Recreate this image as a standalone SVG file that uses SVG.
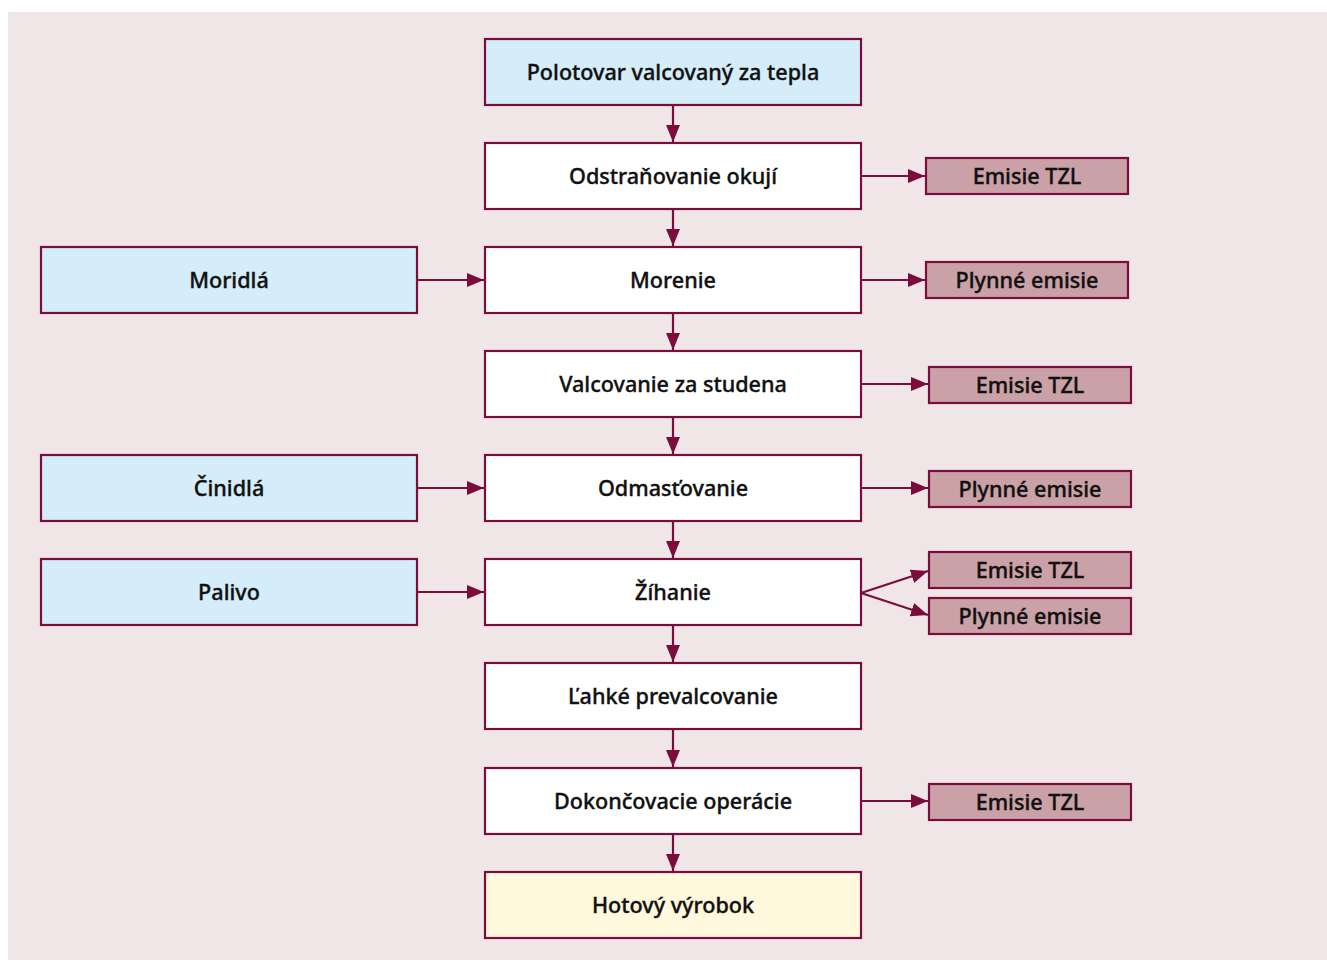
<svg xmlns="http://www.w3.org/2000/svg" width="1327" height="960" viewBox="0 0 1327 960">
  <defs>
    <marker id="arrow" viewBox="0 0 17 14" refX="17" refY="7" markerWidth="17" markerHeight="14" markerUnits="userSpaceOnUse" orient="auto">
      <path d="M0,0 L17,7 L0,14 Z" fill="#7a0c3e"/>
    </marker>
  </defs>
  <style>
    .box rect { stroke: #7a0c3e; stroke-width: 2.2; }
    .main rect { fill: #ffffff; }
    .input rect { fill: #d4edf9; }
    .final rect { fill: #fff8dc; }
    .emis rect { fill: #c9a1a7; }
    text { font-family: "Noto Sans", "Open Sans", "Liberation Sans", sans-serif; font-size: 21.6px; font-weight: 500; fill: #111111; stroke: #111111; stroke-width: 0.35; text-anchor: middle; dominant-baseline: central; }
    #connectors path { fill: none; stroke: #7a0c3e; stroke-width: 2.2; marker-end: url(#arrow); }
  </style>

  <rect x="8" y="12" width="1319" height="948" fill="#f0e6e8"/>

  <!-- process column -->
  <g id="polotovar" class="box input"><rect x="485" y="39" width="376" height="66"/><text x="673" y="71">Polotovar valcovaný za tepla</text></g>
  <g id="odstranovanie" class="box main"><rect x="485" y="143" width="376" height="66"/><text x="673" y="175">Odstraňovanie okují</text></g>
  <g id="morenie" class="box main"><rect x="485" y="247" width="376" height="66"/><text x="673" y="279">Morenie</text></g>
  <g id="valcovanie" class="box main"><rect x="485" y="351" width="376" height="66"/><text x="673" y="383">Valcovanie za studena</text></g>
  <g id="odmastovanie" class="box main"><rect x="485" y="455" width="376" height="66"/><text x="673" y="487">Odmasťovanie</text></g>
  <g id="zihanie" class="box main"><rect x="485" y="559" width="376" height="66"/><text x="673" y="591">Žíhanie</text></g>
  <g id="prevalcovanie" class="box main"><rect x="485" y="663" width="376" height="66"/><text x="673" y="695">Ľahké prevalcovanie</text></g>
  <g id="dokoncovacie" class="box main"><rect x="485" y="768" width="376" height="66"/><text x="673" y="800">Dokončovacie operácie</text></g>
  <g id="hotovy" class="box final"><rect x="485" y="872" width="376" height="66"/><text x="673" y="904">Hotový výrobok</text></g>

  <!-- inputs -->
  <g id="moridla" class="box input"><rect x="41" y="247" width="376" height="66"/><text x="229" y="279">Moridlá</text></g>
  <g id="cinidla" class="box input"><rect x="41" y="455" width="376" height="66"/><text x="229" y="487">Činidlá</text></g>
  <g id="palivo" class="box input"><rect x="41" y="559" width="376" height="66"/><text x="229" y="591">Palivo</text></g>

  <!-- emissions -->
  <g id="emis1" class="box emis"><rect x="926" y="158" width="202" height="36"/><text x="1027" y="175">Emisie TZL</text></g>
  <g id="emis2" class="box emis"><rect x="926" y="262" width="202" height="36"/><text x="1027" y="279">Plynné emisie</text></g>
  <g id="emis3" class="box emis"><rect x="929" y="367" width="202" height="36"/><text x="1030" y="384">Emisie TZL</text></g>
  <g id="emis4" class="box emis"><rect x="929" y="471" width="202" height="36"/><text x="1030" y="488">Plynné emisie</text></g>
  <g id="emis5" class="box emis"><rect x="929" y="552" width="202" height="36"/><text x="1030" y="569">Emisie TZL</text></g>
  <g id="emis6" class="box emis"><rect x="929" y="598" width="202" height="36"/><text x="1030" y="615">Plynné emisie</text></g>
  <g id="emis7" class="box emis"><rect x="929" y="784" width="202" height="36"/><text x="1030" y="801">Emisie TZL</text></g>

  <g id="connectors">
    <!-- main flow -->
    <path d="M673,105 V142"/>
    <path d="M673,209 V246"/>
    <path d="M673,313 V350"/>
    <path d="M673,417 V454"/>
    <path d="M673,521 V558"/>
    <path d="M673,625 V662"/>
    <path d="M673,729 V767"/>
    <path d="M673,834 V871"/>
    <!-- inputs -->
    <path d="M417,280 H484"/>
    <path d="M417,488 H484"/>
    <path d="M417,592 H484"/>
    <!-- emissions -->
    <path d="M861,176 H925"/>
    <path d="M861,280 H925"/>
    <path d="M861,384 H928"/>
    <path d="M861,488 H928"/>
    <path d="M861,593 L928,571"/>
    <path d="M861,593 L928,615"/>
    <path d="M861,801 H928"/>
  </g>
</svg>
